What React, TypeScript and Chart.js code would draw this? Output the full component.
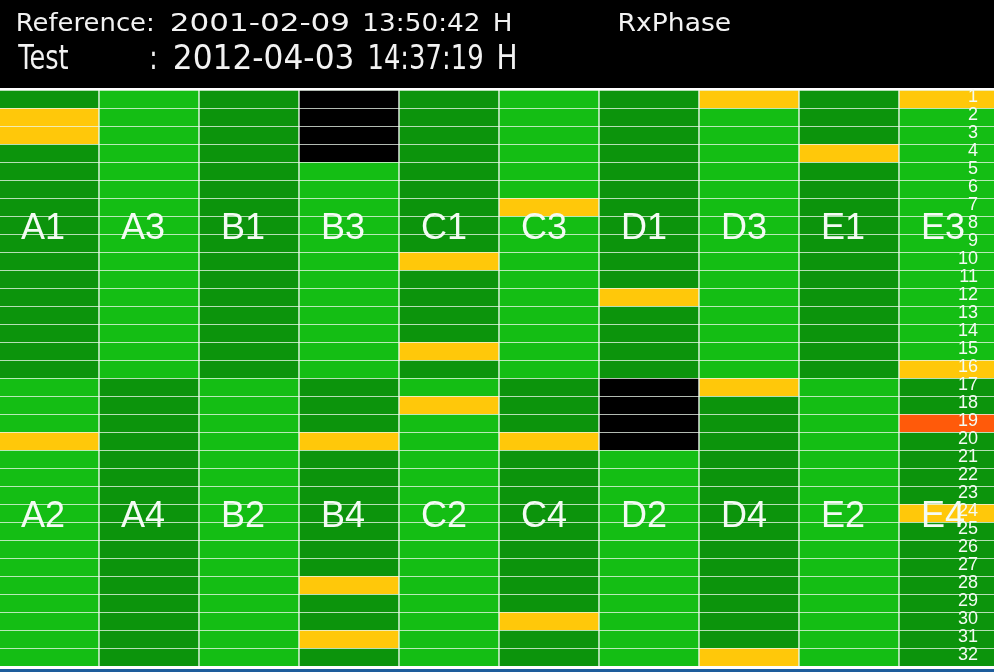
import React, { useEffect, useRef } from 'react';
import { Chart, registerables } from 'chart.js';

Chart.register(...registerables);

// ---- data ----
const topLabels = ['A1', 'A3', 'B1', 'B3', 'C1', 'C3', 'D1', 'D3', 'E1', 'E3'];
const bottomLabels = ['A2', 'A4', 'B2', 'B4', 'C2', 'C4', 'D2', 'D4', 'E2', 'E4'];
const rowLabels = ['1', '2', '3', '4', '5', '6', '7', '8', '9', '10', '11', '12', '13', '14', '15', '16',
  '17', '18', '19', '20', '21', '22', '23', '24', '25', '26', '27', '28', '29', '30', '31', '32'];

// status per row (1..32): 0 = no data, 1 = dark green, 2 = light green, 3 = yellow, 4 = orange
const statusA1A2 = [1, 3, 3, 1, 1, 1, 1, 1, 1, 1, 1, 1, 1, 1, 1, 1, 2, 2, 2, 3, 2, 2, 2, 2, 2, 2, 2, 2, 2, 2, 2, 2];
const statusA3A4 = [2, 2, 2, 2, 2, 2, 2, 2, 2, 2, 2, 2, 2, 2, 2, 2, 1, 1, 1, 1, 1, 1, 1, 1, 1, 1, 1, 1, 1, 1, 1, 1];
const statusB1B2 = [1, 1, 1, 1, 1, 1, 1, 1, 1, 1, 1, 1, 1, 1, 1, 1, 2, 2, 2, 2, 2, 2, 2, 2, 2, 2, 2, 2, 2, 2, 2, 2];
const statusB3B4 = [0, 0, 0, 0, 2, 2, 2, 2, 2, 2, 2, 2, 2, 2, 2, 2, 1, 1, 1, 3, 1, 1, 1, 1, 1, 1, 1, 3, 1, 1, 3, 1];
const statusC1C2 = [1, 1, 1, 1, 1, 1, 1, 1, 1, 3, 1, 1, 1, 1, 3, 1, 2, 3, 2, 2, 2, 2, 2, 2, 2, 2, 2, 2, 2, 2, 2, 2];
const statusC3C4 = [2, 2, 2, 2, 2, 2, 3, 2, 2, 2, 2, 2, 2, 2, 2, 2, 1, 1, 1, 3, 1, 1, 1, 1, 1, 1, 1, 1, 1, 3, 1, 1];
const statusD1D2 = [1, 1, 1, 1, 1, 1, 1, 1, 1, 1, 1, 3, 1, 1, 1, 1, 0, 0, 0, 0, 2, 2, 2, 2, 2, 2, 2, 2, 2, 2, 2, 2];
const statusD3D4 = [3, 2, 2, 2, 2, 2, 2, 2, 2, 2, 2, 2, 2, 2, 2, 2, 3, 1, 1, 1, 1, 1, 1, 1, 1, 1, 1, 1, 1, 1, 1, 3];
const statusE1E2 = [1, 1, 1, 3, 1, 1, 1, 1, 1, 1, 1, 1, 1, 1, 1, 1, 2, 2, 2, 2, 2, 2, 2, 2, 2, 2, 2, 2, 2, 2, 2, 2];
const statusE3E4 = [3, 2, 2, 2, 2, 2, 2, 2, 2, 2, 2, 2, 2, 2, 2, 3, 1, 1, 4, 1, 1, 1, 1, 3, 1, 1, 1, 1, 1, 1, 1, 1];

const headerLine1 = ['Reference:', '2001-02-09', '13:50:42', 'H', 'RxPhase'];
const headerLine2 = ['Test', ':', '2012-04-03', '14:37:19', 'H'];

// ---- styles ----
const statusColors = ['#000000', '#0c940c', '#14be14', '#ffc80a', '#ff5a0a'];
const lineColor = '#eef8ee';

const columns = [statusA1A2, statusA3A4, statusB1B2, statusB3B4, statusC1C2,
  statusC3C4, statusD1D2, statusD3D4, statusE1E2, statusE3E4];

function fitText(ctx: CanvasRenderingContext2D, text: string, x: number, baseline: number,
  capH: number, inkW: number | null, defSx: number) {
  ctx.save();
  ctx.font = '100px "DejaVu Sans"';
  ctx.textAlign = 'left';
  ctx.textBaseline = 'alphabetic';
  const capRef = ctx.measureText('H').actualBoundingBoxAscent || 72.9;
  const m = ctx.measureText(text);
  const ink = m.actualBoundingBoxLeft + m.actualBoundingBoxRight;
  const sy = capH / capRef;
  const sx = inkW ? inkW / ink : defSx;
  ctx.translate(x + m.actualBoundingBoxLeft * sx, baseline);
  ctx.scale(sx, sy);
  ctx.fillText(text, 0, 0);
  ctx.restore();
}

const headerPlugin = {
  id: 'header',
  beforeDraw(chart: any) {
    const ctx = chart.ctx as CanvasRenderingContext2D;
    ctx.save();
    ctx.fillStyle = '#000';
    ctx.fillRect(0, 0, chart.width, 88);
    ctx.fillStyle = '#1d5c9c';
    ctx.fillRect(0, 669, chart.width, 3);
    ctx.fillStyle = '#f2f2f2';
    const x1 = [19, 173, 366, 496, 621];
    const w1 = [134, 176, 113, 15, 110];
    headerLine1.forEach((t, i) => fitText(ctx, t, x1[i], 30.5, 17.5, w1[i], 0.25));
    const x2 = [19, 153, 176, 371, 500];
    const w2 = [50, null, 177, 112, 16];
    headerLine2.forEach((t, i) => fitText(ctx, t, x2[i], 68.5, 24.5, w2[i], 0.25));
    ctx.restore();
  },
  afterDatasetsDraw(chart: any) {
    const ctx = chart.ctx as CanvasRenderingContext2D;
    const xs = chart.scales.x;
    const ys = chart.scales.y;
    const colW = (chart.chartArea.right - chart.chartArea.left) / topLabels.length;
    ctx.save();
    ctx.fillStyle = '#f4fbf4';
    ctx.font = '36px "Liberation Sans"';
    ctx.textAlign = 'left';
    ctx.textBaseline = 'alphabetic';
    topLabels.forEach((t, i) => {
      const left = xs.getPixelForValue(i) - colW / 2;
      ctx.fillText(t, left + 22, ys.getPixelForValue(8.3));
      ctx.fillText(bottomLabels[i], left + 22, ys.getPixelForValue(24.3));
    });
    // row numbers along the right edge
    ctx.font = '18px "Liberation Sans"';
    ctx.textAlign = 'right';
    ctx.textBaseline = 'middle';
    const xr = chart.chartArea.right - 21;
    rowLabels.forEach((t, r) => {
      ctx.fillText(t, xr, ys.getPixelForValue(r + 0.5) - 1.5);
    });
    ctx.restore();
  },
};

export default function App() {
  const ref = useRef<HTMLCanvasElement>(null);
  useEffect(() => {
    if (!ref.current) return;
    const datasets = rowLabels.map((_, r) => ({
      label: rowLabels[r],
      data: columns.map(() => 1),
      backgroundColor: columns.map((c) => statusColors[c[r]]),
      borderColor: lineColor,
      borderWidth: { top: 1, bottom: 0, left: 1, right: 1 },
      borderSkipped: false,
      barPercentage: 1,
      categoryPercentage: 1,
    }));
    const chart = new Chart(ref.current, {
      type: 'bar',
      data: {
        labels: topLabels.map((t, i) => t + '/' + bottomLabels[i]),
        datasets: datasets as any,
      },
      options: {
        responsive: false,
        animation: false,
        layout: { padding: { top: 90, bottom: 6, left: 0, right: 0 } },
        plugins: { legend: { display: false }, tooltip: { enabled: false }, title: { display: false } },
        scales: {
          x: { stacked: true, display: false },
          y: { stacked: true, display: false, reverse: true, min: 0, max: 32 },
        },
      },
      plugins: [headerPlugin],
    });
    return () => chart.destroy();
  }, []);
  return (
    <div style={{ position: 'fixed', left: 0, top: 0, width: 994, height: 672, overflow: 'hidden', background: '#fff' }}>
      <canvas ref={ref} width={1000} height={672} style={{ position: 'absolute', left: -1, top: 0, display: 'block' }} />
    </div>
  );
}
